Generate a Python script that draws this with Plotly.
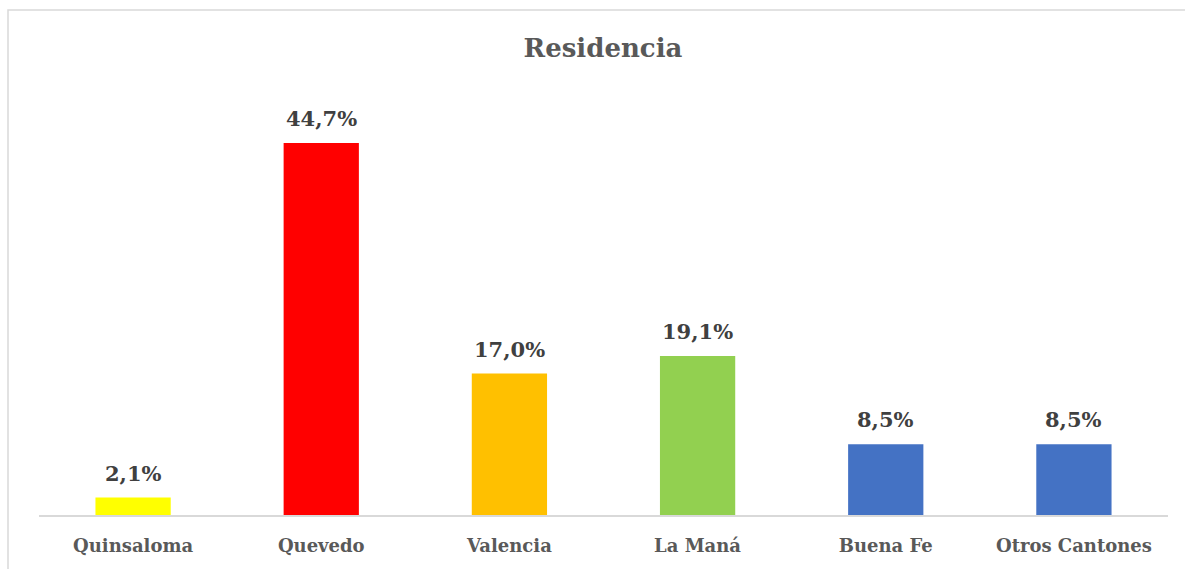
import plotly.graph_objects as go

categories = ["Quinsaloma", "Quevedo", "Valencia", "La Maná", "Buena Fe", "Otros Cantones"]
values = [2.1, 44.7, 17.0, 19.1, 8.5, 8.5]
labels = ["2,1%", "44,7%", "17,0%", "19,1%", "8,5%", "8,5%"]
colors = ["#FFFF00", "#FF0000", "#FFC000", "#92D050", "#4472C4", "#4472C4"]

W, H = 1185, 569
L, R, T, B = 39, 17, 99, 54
PW, PH = W - L - R, H - T - B

fig = go.Figure(go.Bar(
    x=categories, y=values,
    marker=dict(color=colors, line=dict(width=0)),
    hoverinfo="x+y",
))

for c, v, t in zip(categories, values, labels):
    fig.add_annotation(x=c, y=v, text=f"<b>{t}</b>", showarrow=False,
                       yanchor="bottom", yshift=10,
                       font=dict(family="DejaVu Serif", size=21, color="#404040"))

fig.update_layout(
    width=W, height=H,
    margin=dict(l=L, r=R, t=T, b=B),
    paper_bgcolor="white", plot_bgcolor="white",
    bargap=0.6,
    showlegend=False,
    title=dict(text="<b>Residencia</b>", x=603 / W,
               xanchor="center", y=1 - 48 / H, yanchor="middle",
               font=dict(family="DejaVu Serif", size=26, color="#595959")),
    xaxis=dict(showline=True, linecolor="#D9D9D9", linewidth=1.5, ticks="",
               ticklabelstandoff=14,
               tickfont=dict(family="DejaVu Serif", size=18, color="#595959", weight="bold"),
               showgrid=False),
    yaxis=dict(range=[0, 50], visible=False, showgrid=False),
)

fig.add_shape(type="rect", xref="paper", yref="paper",
              x0=(8 - L) / PW, x1=(W + 10 - L) / PW,
              y0=-(B + 10) / PH, y1=(H - 10 - B) / PH,
              line=dict(color="#D9D9D9", width=1.5), fillcolor="rgba(0,0,0,0)", layer="below")

fig.write_html("out.html", config={"displayModeBar": False},
               post_script="document.body.style.margin='0';document.body.style.overflow='hidden';")
